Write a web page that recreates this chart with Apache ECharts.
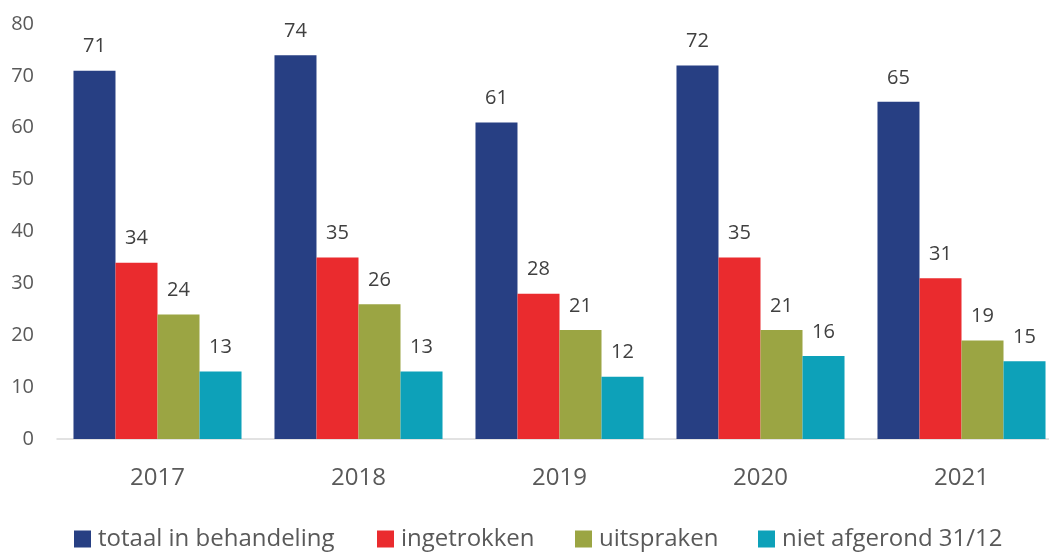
<!DOCTYPE html>
<html>
<head>
<meta charset="utf-8">
<script src="https://cdn.jsdelivr.net/npm/echarts@6/dist/echarts.min.js"></script>
<style>
  html, body { margin: 0; padding: 0; background: #fff; }
  #chart { width: 1049px; height: 552px; }
</style>
</head>
<body>
<div id="chart"></div>
<script>
const years = ['2017', '2018', '2019', '2020', '2021']
const seriesNames = ['totaal in behandeling', 'ingetrokken', 'uitspraken', 'niet afgerond 31/12']
const totaal = [71, 74, 61, 72, 65]
const ingetrokken = [34, 35, 28, 35, 31]
const uitspraken = [24, 26, 21, 21, 19]
const nietAfgerond = [13, 13, 12, 16, 15]
const yTicks = [0, 10, 20, 30, 40, 50, 60, 70, 80]

const colors = ['#273F83', '#EA2B2E', '#9BA543', '#0DA1B9']
const legendLeft = [74, 377, 575, 758]

const font = 'Open Sans'
const textColor = '#595959'

function bar(name, data, color) {
  return {
    name,
    type: 'bar',
    data,
    barGap: '0%',
    barCategoryGap: '16.4%',
    itemStyle: { color },
    label: {
      show: true,
      position: 'top',
      distance: 14,
      color: '#404040',
      fontFamily: font,
      fontSize: 20,
    },
  }
}

// one legend per item so each can sit where the reference puts it
const legends = seriesNames.map((name, i) => ({
  data: [name],
  top: 527,
  left: legendLeft[i],
  itemWidth: 17,
  itemHeight: 17,
  itemGap: 0,
  padding: 0,
  icon: 'rect',
  textStyle: { fontFamily: font, fontSize: 24, color: textColor, padding: [0, 0, 0, 2] },
}))

const chart = echarts.init(document.getElementById('chart'), null, { renderer: 'canvas' })
chart.setOption({
  animation: false,
  textStyle: { fontFamily: font },
  grid: { left: 57, top: 24, width: 1005, bottom: 113, outerBoundsMode: 'none' },
  legend: legends,
  xAxis: {
    type: 'category',
    data: years,
    axisTick: { show: false },
    axisLine: { lineStyle: { color: '#D9D9D9', width: 1.5 } },
    axisLabel: { color: textColor, fontSize: 24, fontFamily: font, margin: 27 },
  },
  yAxis: {
    type: 'value',
    min: yTicks[0],
    max: yTicks[yTicks.length - 1],
    interval: 10,
    splitLine: { show: false },
    axisLabel: { color: textColor, fontSize: 20, fontFamily: font, margin: 23 },
  },
  series: [
    bar(seriesNames[0], totaal, colors[0]),
    bar(seriesNames[1], ingetrokken, colors[1]),
    bar(seriesNames[2], uitspraken, colors[2]),
    bar(seriesNames[3], nietAfgerond, colors[3]),
  ],
})
</script>
</body>
</html>
